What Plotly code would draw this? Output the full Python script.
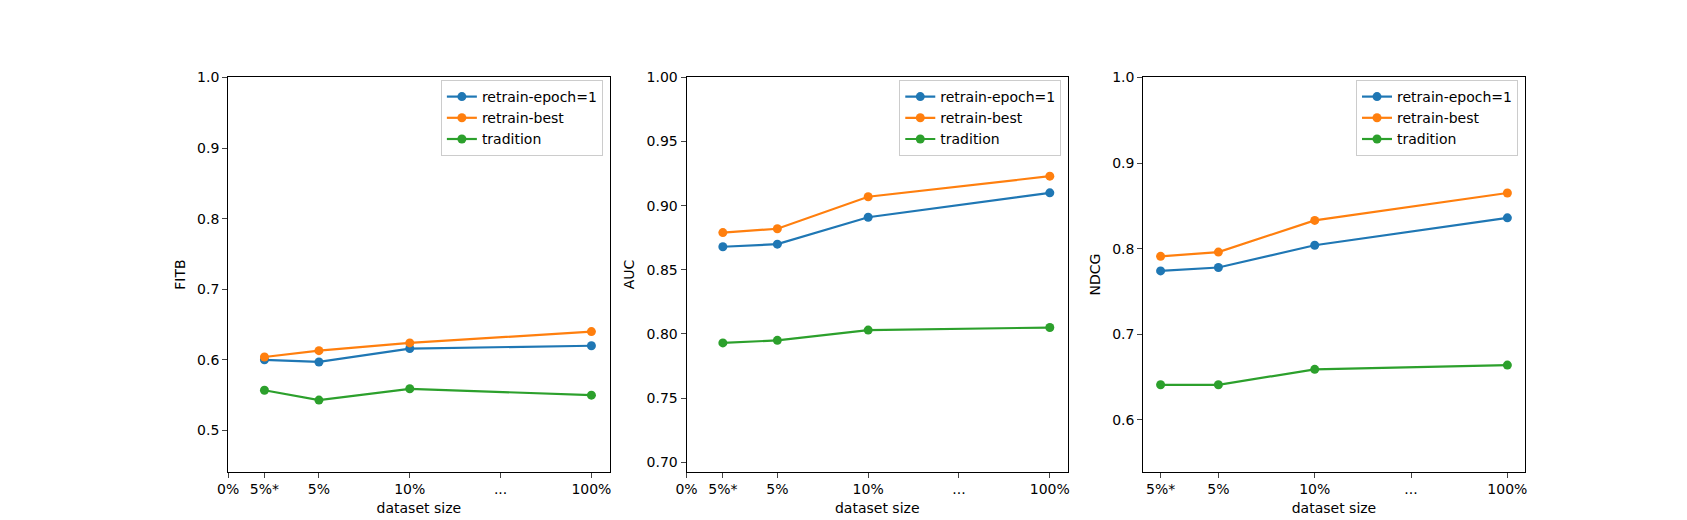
import plotly.graph_objects as go

X_POS = [0.4, 1, 2, 4]
SERIES = ["retrain-epoch=1", "retrain-best", "tradition"]
COLORS = ["#1f77b4", "#ff7f0e", "#2ca02c"]

fitb_epoch1 = [0.600, 0.597, 0.616, 0.620]
fitb_best = [0.604, 0.613, 0.624, 0.640]
fitb_trad = [0.557, 0.543, 0.559, 0.550]

auc_epoch1 = [0.868, 0.870, 0.891, 0.910]
auc_best = [0.879, 0.882, 0.907, 0.923]
auc_trad = [0.793, 0.795, 0.803, 0.805]

ndcg_epoch1 = [0.774, 0.778, 0.804, 0.836]
ndcg_best = [0.791, 0.796, 0.833, 0.865]
ndcg_trad = [0.641, 0.641, 0.659, 0.664]

tick_vals_a = [0, 0.4, 1, 2, 3, 4]
tick_text_a = ["0%", "5%*", "5%", "10%", "...", "100%"]
tick_vals_b = [0.4, 1, 2, 3, 4]
tick_text_b = ["5%*", "5%", "10%", "...", "100%"]

panels = [
    ("FITB", [fitb_epoch1, fitb_best, fitb_trad], [0.4416, 1.0], [0.5, 0.6, 0.7, 0.8, 0.9, 1.0], "%.1f",
     [0, 4.2], tick_vals_a, tick_text_a, [0.125, 0.353]),
    ("AUC", [auc_epoch1, auc_best, auc_trad], [0.6926, 1.0], [0.70, 0.75, 0.80, 0.85, 0.90, 0.95, 1.00], "%.2f",
     [0, 4.2], tick_vals_a, tick_text_a, [0.399, 0.627]),
    ("NDCG", [ndcg_epoch1, ndcg_best, ndcg_trad], [0.5395, 1.0], [0.6, 0.7, 0.8, 0.9, 1.0], "%.1f",
     [0.22, 4.18], tick_vals_b, tick_text_b, [0.672, 0.900]),
]

fig = go.Figure()
layout = {}
for i, (name, data, yr, yt, fmt, xr, tv, tt, dom) in enumerate(panels):
    sfx = "" if i == 0 else str(i + 1)
    leg = "legend" + sfx
    for s, vals, c in zip(SERIES, data, COLORS):
        fig.add_trace(go.Scatter(
            x=X_POS, y=vals, name=s, mode="lines+markers",
            line=dict(color=c, width=2.2), marker=dict(color=c, size=9),
            xaxis="x" + sfx, yaxis="y" + sfx, legend=leg))
    layout["xaxis" + sfx] = dict(
        domain=dom, range=xr, tickvals=tv, ticktext=tt, anchor="y" + sfx,
        showline=True, mirror=True, linecolor="black", ticks="outside",
        ticklen=5, showgrid=False, zeroline=False, tickfont=dict(size=14),
        title=dict(text="dataset size", standoff=6, font=dict(size=14)))
    layout["yaxis" + sfx] = dict(
        domain=[0.11, 0.88], range=yr, tickvals=yt, ticktext=[fmt % v for v in yt],
        anchor="x" + sfx, showline=True, mirror=True, linecolor="black",
        ticks="outside", ticklen=5, showgrid=False, zeroline=False, tickfont=dict(size=14),
        title=dict(text=name, standoff=8, font=dict(size=14)))
    layout[leg] = dict(
        x=dom[1] - 0.004, y=0.875, xanchor="right", yanchor="top",
        bordercolor="#cccccc", borderwidth=1, bgcolor="rgba(255,255,255,0.8)",
        font=dict(size=14), tracegroupgap=0)

fig.update_layout(
    width=1687, height=520, paper_bgcolor="white", plot_bgcolor="white",
    margin=dict(l=0, r=0, t=0, b=0),
    font=dict(family="DejaVu Sans", size=14, color="black"),
    **layout)

fig.write_html("out.html")
